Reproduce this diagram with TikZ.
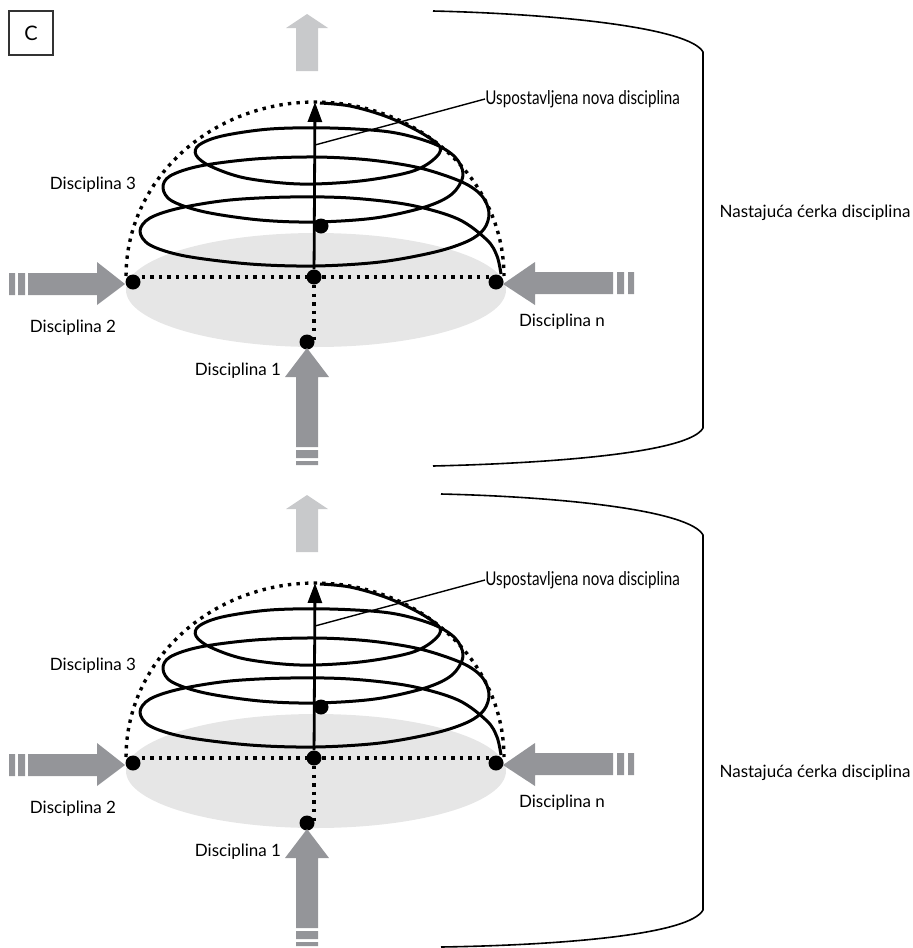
\documentclass[tikz,border=0pt]{standalone}
\usepackage{fontspec}
\setmainfont{Lato}
\usetikzlibrary{arrows.meta, positioning}
\definecolor{arrowgray}{RGB}{148,149,153}
\definecolor{lightarrow}{RGB}{200,201,203}
\definecolor{discgray}{RGB}{230,230,230}

\begin{document}
\begin{tikzpicture}[x=0.5pt, y=-0.5pt,
    dot/.style={circle, fill=black, inner sep=0pt, minimum size=7.5pt},
    dotline/.style={line width=1.7pt, dash pattern=on 1.7pt off 2.6pt},
    spiral/.style={line width=1.5pt, line join=round},
    txt/.style={font=\fontsize{8.5}{10}\selectfont, inner sep=0pt}]

  \useasboundingbox (0,0) rectangle (912,948);

  \node[draw=black!80, line width=0.6pt, minimum size=22pt, font=\fontsize{10}{12}\selectfont] (tag) at (31,33) {C};

  \foreach \dy/\p in {0/a, 481/b} {
  \begin{scope}[shift={(0,\dy)}]
    % base disc and the dome
    \fill[discgray] (316,290) ellipse [x radius=190, y radius=57];
    \fill[lightarrow] (296,71) -- (296,28) -- (286,28) -- (307,14) -- (328,28) -- (318,28) -- (318,71) -- cycle;

    \node[dot] (c\p) at (314,277) {};
    \node[dot] (l\p) at (133,282) {};
    \node[dot] (r\p) at (496,282) {};
    \node[dot] (b\p) at (307,342) {};
    \node[dot] (m\p) at (321,226) {};
    \coordinate (top\p) at (315,102);
    \coordinate (ax\p) at (315,145);

    \draw[dotline] (l\p |- c\p) -- (r\p |- c\p);
    \draw[dotline] (c\p) -- (c\p |- b\p);
    \draw[dotline] plot[domain=180:360, samples=80] ({315+189*cos(\x)}, {276+174*sin(\x)});

    \draw[spiral] plot[smooth, tension=0.55] coordinates {
      (501,274) (497,256) (487,240) (458,219) (410,205) (350,198) (290,197) (230,200)
      (180,208) (150,218) (140,231) (150,245) (185,256) (250,264) (315,266) (380,262)
      (435,252) (468,241) (484,229) (489,213) (482,196) (462,182) (420,168) (370,160)
      (315,157) (255,159) (200,166) (170,176) (163,188) (172,201) (205,212) (260,220)
      (315,222) (375,218) (425,207) (452,194) (463,175) (455,157) (432,143) (390,132)
      (330,128) (270,129) (222,136) (199,145) (196,155) (210,166) (245,178) (300,184)
      (360,181) (410,172) (433,160) (440,147) (418,131) (385,116) (350,106) (320,103)};

    \draw[line width=1.4pt, -{Triangle[length=10pt, width=7pt]}] (c\p) -- (top\p);

    % incoming disciplines
    \fill[arrowgray] (28,273) -- (97,273) -- (97,262) -- (125,284) -- (97,305) -- (97,295) -- (28,295) -- cycle;
    \fill[arrowgray] (9,273) rectangle (15,295) (18,273) rectangle (25,295);
    \fill[arrowgray] (613,272) -- (535,272) -- (535,262) -- (503,284) -- (535,305) -- (535,294) -- (613,294) -- cycle;
    \fill[arrowgray] (617,272) rectangle (624,294) (628,272) rectangle (634,294);
    \fill[arrowgray] (296,447) -- (296,377) -- (285,377) -- (307,348) -- (329,377) -- (318,377) -- (318,447) -- cycle;
    \fill[arrowgray] (296,450) rectangle (318,458) (296,461) rectangle (318,465);

    \node[txt] (d2\p) at (73,328) {Disciplina 2};
    \node[txt] (dn\p) at (562,322) {Disciplina n};
    \node[txt] (d1\p) at (238,371) {Disciplina 1};
    \node[txt] (d3\p) at (93,185) {Disciplina 3};
    \node[txt, anchor=west] (new\p) at (485,99) {\scalebox{0.8}[1]{\fontsize{9.5}{11}\selectfont Uspostavljena nova disciplina}};
    \draw[line width=0.7pt] (ax\p) -- (new\p.west);
  \end{scope}
  }

  % daughter discipline brackets
  \draw[line width=0.8pt] (433,11) .. controls (560,14) and (690,28) .. (703,52) -- (703,428)
    .. controls (690,452) and (560,463) .. (433,466);
  \draw[line width=0.8pt] (441,494) .. controls (568,497) and (690,511) .. (703,535) -- (703,910)
    .. controls (690,934) and (568,945) .. (441,947);
  \node[txt] (nc1) at (815,213) {Nastajuća ćerka disciplina};
  \node[txt] (nc2) at (815,773) {Nastajuća ćerka disciplina};
\end{tikzpicture}
\end{document}
